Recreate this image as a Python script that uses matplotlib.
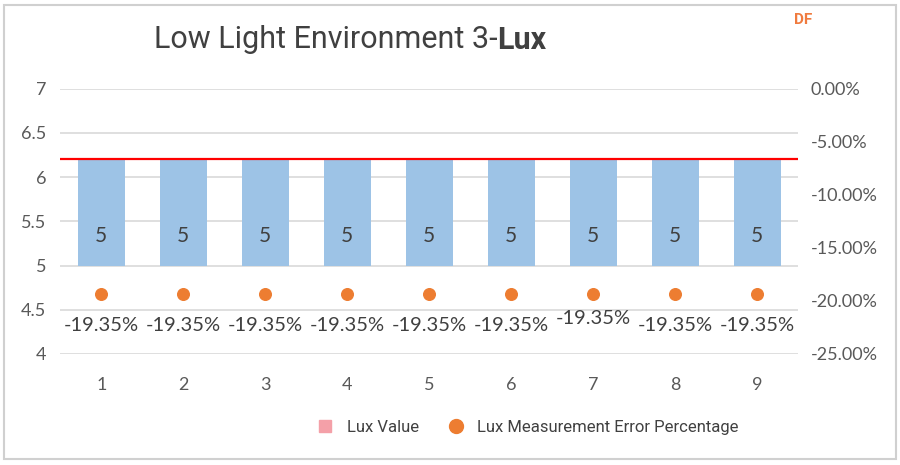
import matplotlib
matplotlib.use("Agg")
import matplotlib.pyplot as plt
from matplotlib.patches import Rectangle
from matplotlib.lines import Line2D

categories = ["1", "2", "3", "4", "5", "6", "7", "8", "9"]
lux_values = [5, 5, 5, 5, 5, 5, 5, 5, 5]
bar_base = 5
bar_top = 6.2
error_pct = [-19.35, -19.35, -19.35, -19.35, -19.35, -19.35, -19.35, -19.35, -19.35]
left_ticks = [4, 4.5, 5, 5.5, 6, 6.5, 7]
right_ticks = [0, -5, -10, -15, -20, -25]

# label offsets (points) under each dot
label_offsets = [-23, -23, -23, -23, -23, -23, -18, -23, -23]

GRAY_TEXT = "#595959"
GRID = "#D9D9D9"
BAR = "#9DC3E6"
ORANGE = "#ED7D31"

plt.rcParams["font.family"] = ["Lato", "DejaVu Sans"]

fig = plt.figure(figsize=(9, 4.65), dpi=100)
fig.patches.append(Rectangle((0.004, 0.012), 0.992, 0.978, transform=fig.transFigure,
                             fill=False, edgecolor="#D0D0D0", linewidth=1.5))

ax = fig.add_axes([0.067, 0.239, 0.82, 0.570])
x = list(range(len(categories)))

ax.bar(x, [bar_top - bar_base] * len(x), bottom=bar_base, width=0.57, color=BAR, zorder=2)
for xi, v in zip(x, lux_values):
    ax.text(xi, 5.33, str(v), ha="center", va="center", fontsize=15, color="#404040", zorder=3)
ax.axhline(bar_top, color="#FF0000", linewidth=1.6, zorder=4)

ax.set_xlim(-0.5, len(x) - 0.5)
ax.set_ylim(4, 7)
ax.set_yticks(left_ticks)
ax.set_yticklabels([f"{t:g}" for t in left_ticks])
ax.set_xticks(x)
ax.set_xticklabels(categories)
ax.grid(axis="y", color=GRID, linewidth=1.2, zorder=0)
ax.set_axisbelow(True)
for s in ax.spines.values():
    s.set_visible(False)
ax.tick_params(axis="both", length=0, labelsize=13, colors=GRAY_TEXT)
ax.tick_params(axis="x", pad=17)
ax.tick_params(axis="y", pad=10)

ax2 = ax.twinx()
ax2.set_ylim(-25, 0)
ax2.set_yticks(right_ticks)
ax2.set_yticklabels([f"{t:.2f}%" for t in right_ticks])
for s in ax2.spines.values():
    s.set_visible(False)
ax2.tick_params(axis="y", length=0, labelsize=13, colors=GRAY_TEXT, pad=9)
ax2.scatter(x, error_pct, s=70, color=ORANGE, zorder=5)
for xi, v, off in zip(x, error_pct, label_offsets):
    ax2.annotate(f"{v:.2f}%", (xi, v), xytext=(0, off), textcoords="offset points",
                 ha="center", va="center", fontsize=14.5, color="#404040")

# title: normal part + bold "Lux"
t1 = fig.text(0.171, 0.915, "Low Light Environment 3-", fontsize=22, color="#404040",
              family=["Roboto", "DejaVu Sans"], va="center", ha="left")
fig.canvas.draw()
ax.annotate("Lux", xy=(1, 0.5), xycoords=t1, va="center", ha="left", fontsize=22,
            fontweight="bold", color="#404040", family=["Roboto", "DejaVu Sans"],
            annotation_clip=False)

fig.text(0.892, 0.958, "DF", fontsize=11, fontweight="bold", color="#F07B3F",
         ha="center", va="center", family=["Roboto", "DejaVu Sans"])

handles = [
    Line2D([], [], marker="s", linestyle="none", markersize=9, color="#F4A0A8"),
    Line2D([], [], marker="o", linestyle="none", markersize=10, color=ORANGE),
]
fig.legend(handles, ["Lux Value", "Lux Measurement Error Percentage"], loc="center",
           bbox_to_anchor=(0.582, 0.08), ncol=2, frameon=False,
           handletextpad=0.3, columnspacing=1.2, labelcolor="#404040",
           prop={"family": ["Roboto", "DejaVu Sans"], "size": 12})

fig.savefig("out.png", dpi=100)
